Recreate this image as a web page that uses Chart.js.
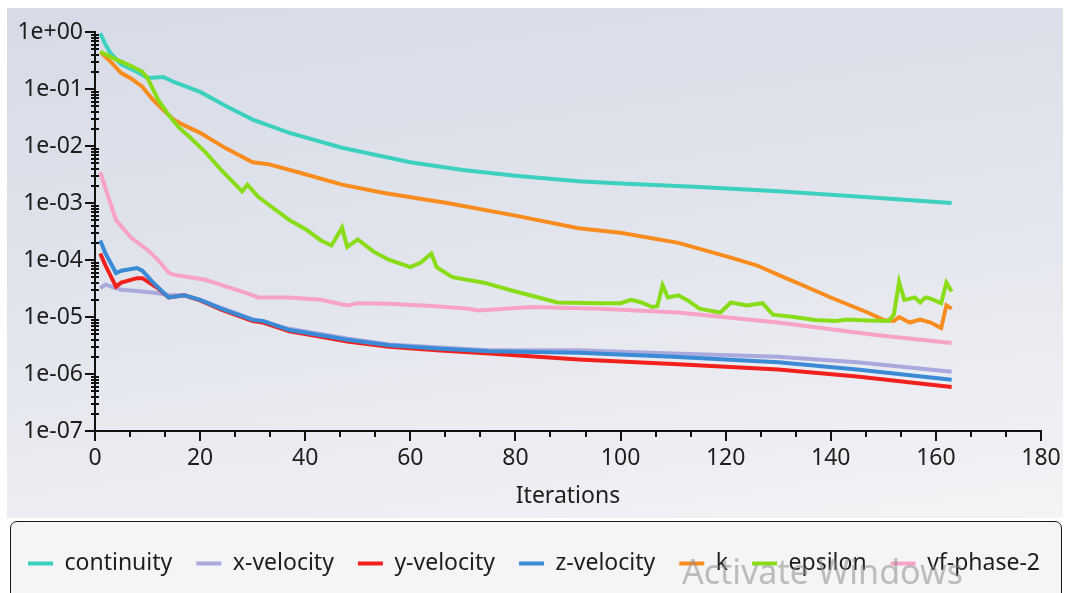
<!DOCTYPE html>
<html>
<head>
<meta charset="utf-8">
<script src="https://cdn.jsdelivr.net/npm/chart.js@4.4.0/dist/chart.umd.min.js"></script>
<style>
	html, body { margin: 0; padding: 0; background: #ffffff; }
	#wrap { position: relative; width: 1068px; height: 593px; overflow: hidden; }
	#panel { position: absolute; left: 7px; top: 8px; width: 1056px; height: 510px;
		background: linear-gradient(172deg, #d6dbe7 0%, #e1e4ec 45%, #eeeff3 85%, #f4f4f6 100%); }
	#legendBox { position: absolute; left: 10px; top: 521px; width: 1050px; height: 90px;
		border: 1.5px solid #1a1a1a; border-radius: 7px; background: #f5f5f7; }
	#residuals { position: absolute; left: 0; top: 0; }
	#wm { position: absolute; left: 682px; top: 548px; font: 34px "Noto Sans", sans-serif;
		color: rgba(140, 140, 140, 0.55); white-space: nowrap; }
</style>
</head>
<body>
<div id="wrap">
	<div id="panel"></div>
	<div id="legendBox"></div>
	<canvas id="residuals" width="1068" height="593"></canvas>
	<div id="wm">Activate Windows</div>
</div>
<script>
// residual histories (iteration, value)
var contIter = [1, 2, 3, 5, 8, 10, 13, 15, 20, 25, 30, 37, 47, 60, 70, 80, 92, 100, 115, 130, 145, 163];
var contVals = [0.95, 0.6, 0.42, 0.27, 0.2, 0.156, 0.162, 0.133, 0.089, 0.05, 0.029, 0.017, 0.0093, 0.0052, 0.0038, 0.003, 0.0024, 0.0022, 0.0019, 0.0016, 0.0013, 0.001];

var xvelIter = [1, 2, 5, 9, 12, 14, 17, 20, 24, 30, 37, 48, 56, 75, 92, 110, 130, 145, 163];
var xvelVals = [3.2e-5, 3.7e-5, 3e-5, 2.8e-5, 2.6e-5, 2.4e-5, 2.4e-5, 2e-5, 1.45e-5, 9.2e-6, 6.2e-6, 4.2e-6, 3.3e-6, 2.6e-6, 2.6e-6, 2.3e-6, 2e-6, 1.6e-6, 1.1e-6];

var yvelIter = [1, 2, 4, 5, 8, 9, 12, 14, 17, 20, 24, 30, 32, 37, 43, 48, 56, 65, 75, 92, 110, 130, 145, 163];
var yvelVals = [1.3e-4, 8e-5, 3.4e-5, 4e-5, 4.8e-5, 4.8e-5, 3.2e-5, 2.2e-5, 2.4e-5, 1.95e-5, 1.35e-5, 8.5e-6, 8e-6, 5.6e-6, 4.5e-6, 3.7e-6, 3e-6, 2.6e-6, 2.3e-6, 1.8e-6, 1.5e-6, 1.2e-6, 9e-7, 5.9e-7];

var zvelIter = [1, 2, 4, 5, 8, 9, 11, 14, 17, 20, 24, 30, 32, 37, 43, 48, 56, 65, 75, 92, 110, 130, 145, 163];
var zvelVals = [2.2e-4, 1.3e-4, 5.9e-5, 6.5e-5, 7.2e-5, 6.5e-5, 4.1e-5, 2.2e-5, 2.4e-5, 2e-5, 1.4e-5, 8.9e-6, 8.5e-6, 5.9e-6, 4.8e-6, 4e-6, 3.2e-6, 2.8e-6, 2.5e-6, 2.35e-6, 2e-6, 1.6e-6, 1.2e-6, 7.9e-7];

var kIter = [1, 3, 5, 7, 9, 11, 13, 15, 17, 20, 25, 30, 33, 39, 47, 55, 67, 80, 92, 100, 111, 121, 126, 130, 135, 140, 147, 150, 152, 153, 155, 157, 159, 161, 162, 163];
var kVals = [0.45, 0.3, 0.19, 0.15, 0.11, 0.065, 0.043, 0.029, 0.023, 0.017, 0.009, 0.0052, 0.0048, 0.0034, 0.0021, 0.0015, 0.001, 0.0006, 0.00036, 0.0003, 0.0002, 0.00011, 8e-5, 5.5e-5, 3.5e-5, 2.2e-5, 1.2e-5, 8.9e-6, 8.5e-6, 1e-5, 8e-6, 9e-6, 8e-6, 6.4e-6, 1.6e-5, 1.4e-5];

var epsIter = [1, 4, 7, 9, 10, 12, 14, 16, 18, 21, 24, 28, 29, 31, 34, 37, 40, 43, 45, 47, 48, 50, 53, 56, 60, 62, 64, 65, 68, 74, 80, 88, 96, 100, 102, 104, 106, 107, 108, 109, 111, 113, 115, 119, 121, 124, 127, 129, 133, 137, 141, 143, 147, 151, 152, 153, 154, 156, 157, 158, 159, 161, 162, 163];
var epsVals = [0.45, 0.33, 0.25, 0.2, 0.155, 0.065, 0.035, 0.021, 0.0144, 0.0078, 0.0038, 0.0016, 0.0021, 0.0013, 0.0008, 0.0005, 0.00035, 0.00022, 0.00018, 0.00037, 0.00017, 0.00023, 0.00014, 0.0001, 7.5e-5, 9e-5, 0.00013, 7.5e-5, 5e-5, 4e-5, 2.8e-5, 1.8e-5, 1.75e-5, 1.75e-5, 2e-5, 1.8e-5, 1.5e-5, 1.55e-5, 3.6e-5, 2.2e-5, 2.4e-5, 1.9e-5, 1.4e-5, 1.2e-5, 1.8e-5, 1.6e-5, 1.75e-5, 1.1e-5, 1e-5, 8.9e-6, 8.5e-6, 9e-6, 8.7e-6, 8.5e-6, 1.1e-5, 4.1e-5, 2e-5, 2.2e-5, 1.8e-5, 2.2e-5, 2.1e-5, 1.75e-5, 4e-5, 2.8e-5];

var vfIter = [1, 2, 4, 7, 10, 12, 14, 15, 18, 21, 25, 29, 31, 37, 43, 48, 50, 56, 65, 71, 73, 83, 96, 111, 130, 149, 163];
var vfVals = [3.5e-3, 1.8e-3, 5e-4, 2.4e-4, 1.5e-4, 1e-4, 6e-5, 5.5e-5, 5e-5, 4.5e-5, 3.4e-5, 2.6e-5, 2.2e-5, 2.2e-5, 2e-5, 1.6e-5, 1.75e-5, 1.7e-5, 1.55e-5, 1.4e-5, 1.3e-5, 1.5e-5, 1.4e-5, 1.2e-5, 8e-6, 4.8e-6, 3.5e-6];

var seriesNames = ['continuity', 'x-velocity', 'y-velocity', 'z-velocity', 'k', 'epsilon', 'vf-phase-2'];
var seriesColors = ['#3dd0bf', '#a9a9de', '#f2201c', '#3a8ad6', '#f88c1e', '#88dc18', '#f7a3c6'];
var drawOrder = [3, 5, 4, 0, 2, 1, 6];

var xTickLabels = ['0', '20', '40', '60', '80', '100', '120', '140', '160', '180'];
var yTickLabels = ['1e-07', '1e-06', '1e-05', '1e-04', '1e-03', '1e-02', '1e-01', '1e+00'];

var textColor = '#1e1e1e';
var font = { family: 'Noto Sans', size: 23 };

var Residuals = {
	chart: null,

	pts: function(xs, ys) {
		return xs.map(function(x, i) { return { x: x, y: ys[i] }; });
	},
	isDecade: function(v) {
		var e = Math.log10(v);
		return Math.abs(e - Math.round(e)) < 1e-6;
	},
	isMajorX: function(v) {
		return Math.abs(v / 20 - Math.round(v / 20)) < 1e-6;
	},
	init: function() {
		var iters = [contIter, xvelIter, yvelIter, zvelIter, kIter, epsIter, vfIter];
		var vals = [contVals, xvelVals, yvelVals, zvelVals, kVals, epsVals, vfVals];
		var datasets = [];
		for(var i = 0; i < seriesNames.length; i++) {
			datasets.push({
				label: seriesNames[i],
				data: Residuals.pts(iters[i], vals[i]),
				borderColor: seriesColors[i],
				backgroundColor: seriesColors[i],
				borderWidth: 4,
				pointRadius: 0,
				tension: 0,
				order: drawOrder[i]
			});
		}

		// short tick marks: long ones on decades / every 20 iterations
		var tickMarks = {
			id: 'tickMarks',
			afterDraw: function(chart) {
				var ctx = chart.ctx, xs = chart.scales.x, ys = chart.scales.y;
				ctx.save();
				ctx.strokeStyle = '#111';
				ctx.lineWidth = 2;
				ctx.beginPath();
				ys.ticks.forEach(function(t) {
					var py = Math.round(ys.getPixelForValue(t.value));
					if(Residuals.isDecade(t.value)) {
						ctx.moveTo(xs.left - 10, py);
						ctx.lineTo(xs.left, py);
					} else {
						ctx.moveTo(xs.left - 4, py);
						ctx.lineTo(xs.left + 4, py);
					}
				});
				xs.ticks.forEach(function(t) {
					var px = Math.round(xs.getPixelForValue(t.value));
					ctx.moveTo(px, ys.bottom);
					ctx.lineTo(px, ys.bottom + (Residuals.isMajorX(t.value) ? 10 : 6));
				});
				ctx.stroke();
				ctx.restore();
			}
		};

		var ctx = document.getElementById('residuals').getContext('2d');
		Residuals.chart = new Chart(ctx, {
			type: 'line',
			data: { datasets: datasets },
			plugins: [tickMarks],
			options: {
				responsive: false,
				animation: false,
				layout: { padding: { left: 0, top: 32, right: 0, bottom: 8 } },
				plugins: {
					tooltip: { enabled: false },
					legend: {
						position: 'bottom',
						labels: {
							boxWidth: 25,
							boxHeight: 4,
							padding: 24,
							color: textColor,
							font: font,
							sort: function(a, b) { return a.datasetIndex - b.datasetIndex; },
							generateLabels: function(chart) {
								return chart.data.datasets.map(function(ds, i) {
									return {
										text: ds.label,
										fillStyle: ds.borderColor,
										strokeStyle: ds.borderColor,
										lineWidth: 0,
										fontColor: textColor,
										datasetIndex: i
									};
								});
							}
						}
					}
				},
				scales: {
					x: {
						type: 'linear',
						min: 0,
						max: 180,
						afterBuildTicks: function(scale) {
							var t = [];
							for(var k = 0; k <= 27; k++) t.push({ value: k * 20 / 3 });
							scale.ticks = t;
						},
						afterFit: function(scale) {
							scale.height = 593 - 8 - scale.chart.legend.height - 431;
						},
						grid: { display: false, drawTicks: true, tickLength: 10 },
						border: { display: true, color: '#111', width: 2 },
						ticks: {
							autoSkip: false,
							maxRotation: 0,
							padding: 4,
							color: textColor,
							font: font,
							callback: function(v) {
								return Residuals.isMajorX(v) ? xTickLabels[Math.round(v / 20)] : '';
							}
						},
						title: { display: true, text: 'Iterations', color: textColor, font: font, padding: { top: 0, bottom: 18 } }
					},
					y: {
						type: 'logarithmic',
						min: 1e-7,
						max: 1,
						afterBuildTicks: function(scale) {
							var t = [];
							for(var e = -7; e <= 0; e++) {
								for(var m = 1; m <= 9; m++) {
									if(e == 0 && m > 1) break;
									t.push({ value: m * Math.pow(10, e) });
								}
							}
							scale.ticks = t;
						},
						afterFit: function(scale) {
							scale.width = 95;
						},
						grid: { display: false, drawTicks: true, tickLength: 10 },
						border: { display: true, color: '#111', width: 2 },
						ticks: {
							autoSkip: false,
							padding: 2,
							color: textColor,
							font: font,
							callback: function(v) {
								return Residuals.isDecade(v) ? yTickLabels[Math.round(Math.log10(v)) + 7] : '';
							}
						}
					},
					// empty strip on the right so the plot ends at 180 with a margin
					spacer: {
						type: 'linear',
						position: 'right',
						afterFit: function(scale) {
							scale.width = 27;
						},
						grid: { display: false, drawTicks: false },
						border: { display: false },
						ticks: { display: false }
					}
				}
			}
		});
	}
};

Residuals.init();
</script>
</body>
</html>
